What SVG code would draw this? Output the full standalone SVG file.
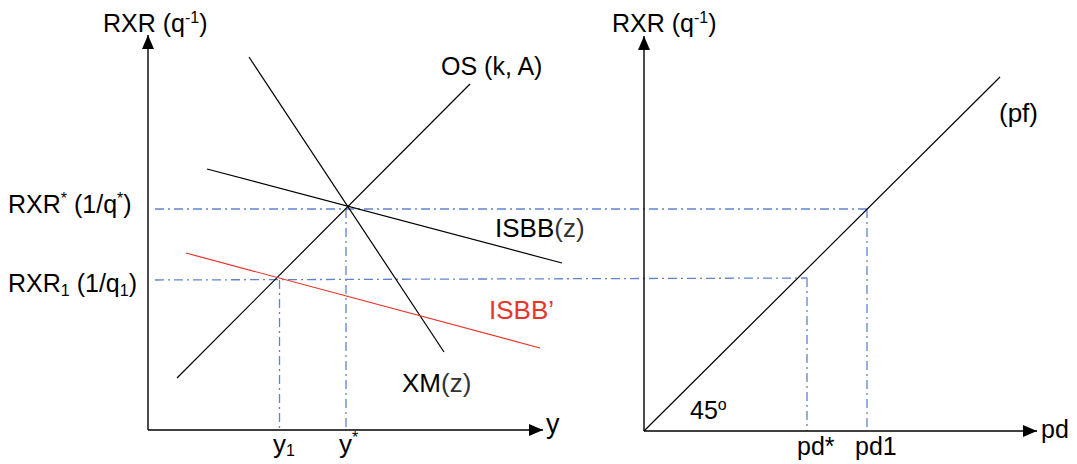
<svg xmlns="http://www.w3.org/2000/svg" width="1077" height="464" viewBox="0 0 1077 464">
<defs>
<marker id="arr" viewBox="0 0 14 12" refX="14" refY="6" markerWidth="14" markerHeight="12" markerUnits="userSpaceOnUse" orient="auto">
<path d="M0,0 L14,6 L0,12 Z" fill="#000"/>
</marker>
<style>
text{font-family:"Liberation Sans",Arial,sans-serif;font-size:25px;fill:#000}
.axis{stroke:#000;stroke-width:1.4;fill:none}
.curve{stroke:#000;stroke-width:1.2;fill:none}
.red{stroke:#e8352b;stroke-width:1.2;fill:none}
.dash{stroke:#5f84cf;stroke-width:1.3;fill:none;stroke-dasharray:9 4 2 4}
.sup{font-size:16px}
.lt{font-weight:300;fill:#333}
</style>
</defs>
<rect width="1077" height="464" fill="#fff"/>
<g id="connectors">
<line class="dash" x1="155" y1="209" x2="867" y2="209"/>
<line class="dash" x1="155" y1="280" x2="807" y2="278"/>
<line class="dash" x1="346" y1="209" x2="346" y2="430"/>
<line class="dash" x1="279.5" y1="280" x2="279.5" y2="430"/>
<line class="dash" x1="807" y1="278" x2="807" y2="431"/>
<line class="dash" x1="867" y1="209" x2="867" y2="431"/>
</g>
<g id="left-axes">
<line class="axis" x1="148" y1="430" x2="148" y2="35" marker-end="url(#arr)"/>
<line class="axis" x1="148" y1="430" x2="543" y2="430" marker-end="url(#arr)"/>
</g>
<g id="right-axes">
<line class="axis" x1="644" y1="431" x2="644" y2="36" marker-end="url(#arr)"/>
<line class="axis" x1="644" y1="431" x2="1037" y2="431" marker-end="url(#arr)"/>
</g>
<g id="os-curve"><line class="curve" x1="177" y1="378" x2="470" y2="84"/></g>
<g id="xm-curve"><line class="curve" x1="249" y1="57" x2="444" y2="352"/></g>
<g id="isbb-curve"><line class="curve" x1="207" y1="169" x2="562" y2="263"/></g>
<g id="isbb-prime-curve"><line class="red" x1="186" y1="253" x2="540" y2="348"/></g>
<g id="pf-curve"><line class="curve" x1="644" y1="431" x2="1000" y2="77"/></g>
<g id="labels">
<text x="103" y="32">RXR (q<tspan class="sup" dy="-9">-1</tspan><tspan dy="9">)</tspan></text>
<text x="612" y="32">RXR (q<tspan class="sup" dy="-9">-1</tspan><tspan dy="9">)</tspan></text>
<text x="441" y="75">OS (k, A)</text>
<text x="8" y="213">RXR<tspan class="sup" dy="-9">*</tspan><tspan dy="9"> (1/q</tspan><tspan class="sup" dy="-9">*</tspan><tspan dy="9">)</tspan></text>
<text x="8" y="292">RXR<tspan class="sup" dy="4">1</tspan><tspan dy="-4"> (1/q</tspan><tspan class="sup" dy="4">1</tspan><tspan dy="-4">)</tspan></text>
<text x="495" y="237" style="font-size:26px">ISBB<tspan class="lt">(z)</tspan></text>
<text x="489" y="319" style="font-size:26px;fill:#e8352b">ISBB’</text>
<text x="402" y="392" style="font-size:26px">XM<tspan class="lt">(z)</tspan></text>
<text x="546" y="433" style="font-size:27px">y</text>
<text x="273" y="453" style="font-size:26px">y<tspan class="sup" dy="3">1</tspan></text>
<text x="339" y="453" style="font-size:26px">y<tspan class="sup" dy="-10">*</tspan></text>
<text x="999" y="122" style="font-size:26px">(pf)</text>
<text x="690" y="419">45<tspan class="sup" dy="-9">o</tspan></text>
<text x="797" y="455">pd*</text>
<text x="855" y="455">pd1</text>
<text x="1041" y="438">pd</text>
</g>
</svg>
